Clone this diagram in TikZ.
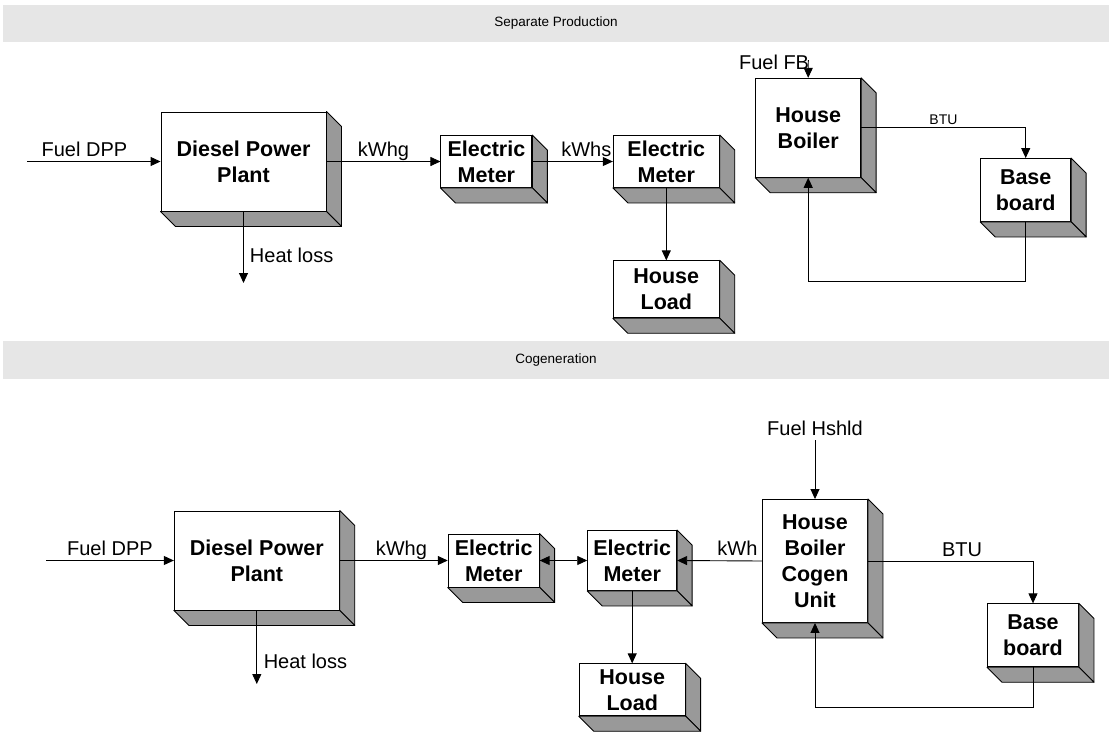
\documentclass[tikz,border=0pt]{standalone}
\usepackage{fontspec}
\setmainfont{Liberation Sans}
\usetikzlibrary{arrows.meta}

\definecolor{cgShadeGray}{HTML}{999999}
\definecolor{cgBandGray}{HTML}{E6E6E6}

\begin{document}
\begin{tikzpicture}[x=1pt,y=-1pt]
\tikzset{
    cgBlock/.style={draw=black,fill=white,line width=0.9pt,inner sep=0pt,align=center,
        font=\fontsize{21.5}{26}\selectfont\bfseries},
    cgLabel/.style={font=\fontsize{20}{24}\selectfont,inner sep=1pt,text depth=3.5pt},
    cgSmall/.style={font=\fontsize{14}{16}\selectfont,inner sep=1pt,text depth=2pt},
    cgBand/.style={fill=cgBandGray,minimum width=1106pt,inner sep=0pt,font=\fontsize{13.5}{16}\selectfont},
    cgSide/.style={draw=black,fill=cgShadeGray,line width=0.9pt,line join=round},
    cgArrow/.style={line width=0.9pt,-{Triangle[length=10pt,width=9pt]}},
    cgDblArrow/.style={line width=0.9pt,{Triangle[length=10pt,width=9pt]}-{Triangle[length=10pt,width=9pt]}}
}
\useasboundingbox (0,0) rectangle (1109,734);

% title bands
\node[cgBand,minimum height=37pt] (bandSep) at (556,23.5) {Separate Production};
\node[cgBand,minimum height=38pt] (bandCogen) at (556,360) {Cogeneration};

% separate production
\node[cgBlock,minimum width=165pt,minimum height=99pt] (dppA) at (243.5,161.5) {Diesel Power\\Plant};
\node[cgBlock,minimum width=91pt,minimum height=52pt] (emA1) at (486.4,161.5) {Electric\\Meter};
\node[cgBlock,minimum width=106pt,minimum height=52pt] (emA2) at (666.3,161.5) {Electric\\Meter};
\node[cgBlock,minimum width=106pt,minimum height=57pt] (loadA) at (666.3,289.3) {House\\Load};
\node[cgBlock,minimum width=105pt,minimum height=99pt] (boilerA) at (808.2,127.8) {House\\Boiler};
\node[cgBlock,minimum width=90pt,minimum height=63pt] (baseA) at (1025.7,190) {Base\\board};

% cogeneration
\node[cgBlock,minimum width=165pt,minimum height=99pt] (dppB) at (256.8,560.5) {Diesel Power\\Plant};
\node[cgBlock,minimum width=91pt,minimum height=53pt] (emB1) at (493.7,560.5) {Electric\\Meter};
\node[cgBlock,minimum width=89pt,minimum height=60pt] (emB2) at (632.2,560.5) {Electric\\Meter};
\node[cgBlock,minimum width=106pt,minimum height=52pt] (loadB) at (632.2,689.8) {House\\Load};
\node[cgBlock,minimum width=105pt,minimum height=123pt] (cogenB) at (815,561) {House\\Boiler\\Cogen\\Unit};
\node[cgBlock,minimum width=91pt,minimum height=63pt] (baseB) at (1033,635.3) {Base\\board};

% 3D sides
\foreach \b in {dppA,emA1,emA2,loadA,boilerA,baseA,dppB,emB1,emB2,loadB,cogenB,baseB} {
    \draw[cgSide] (\b.north east) -- ++(15,15) -- ([shift={(15,15)}]\b.south east) -- (\b.south east) -- cycle;
    \draw[cgSide] (\b.south west) -- ++(15,15) -- ([shift={(15,15)}]\b.south east) -- (\b.south east) -- cycle;
}

% free ends
\coordinate (fuelDppA) at (27,161.5);
\coordinate (heatA) at (243.5,283);
\coordinate (fuelFbA) at (808.3,60);
\coordinate (fuelDppB) at (46,560.5);
\coordinate (heatB) at (256.8,684);
\coordinate (fuelHshB) at (815,440);

% flows, separate production
\draw[cgArrow] (fuelDppA) -- node[cgLabel,above,pos=0.43] (lblFuelDppA) {Fuel DPP} (dppA.west);
\draw[cgArrow] (dppA.south) -- node[cgLabel,right,pos=0.64,xshift=5pt] (lblHeatA) {Heat loss} (heatA);
\draw[cgArrow] (dppA.east) -- node[cgLabel,above] (lblKwhgA) {kWhg} (emA1.west);
\draw[cgArrow] (emA1.east) -- node[cgLabel,above,pos=0.67] (lblKwhsA) {kWhs} (emA2.west);
\draw[cgArrow] (emA2.south) -- (loadA.north);
\node[cgLabel,anchor=base east] (lblFuelFbA) at ([shift={(2,9)}]fuelFbA) {Fuel FB};
\draw[cgArrow] (fuelFbA) -- (boilerA.north);
\draw[cgArrow] (boilerA.east) -- node[cgSmall,above] (lblBtuA) {BTU} (boilerA.east -| baseA) -- (baseA.north);
\draw[cgArrow] (baseA.south) -- ++(0,59) -| (boilerA.south);

% flows, cogeneration
\draw[cgArrow] (fuelDppB) -- node[cgLabel,above] (lblFuelDppB) {Fuel DPP} (dppB.west);
\draw[cgArrow] (dppB.south) -- node[cgLabel,right,pos=0.72,xshift=5.5pt] (lblHeatB) {Heat loss} (heatB);
\draw[cgArrow] (dppB.east) -- node[cgLabel,above,pos=0.57] (lblKwhgB) {kWhg} (emB1.west);
\draw[cgDblArrow] (emB1.east) -- (emB2.west);
\draw[cgArrow] (cogenB.west) -- node[cgLabel,above,pos=0.29] (lblKwhB) {kWh} (emB2.east);
\draw[cgArrow] (emB2.south) -- (loadB.north);
\node[cgLabel,above] (lblFuelHshB) at (fuelHshB) {Fuel Hshld};
\draw[cgArrow] (fuelHshB) -- (cogenB.north);
\draw[cgArrow] (cogenB.east) -- node[cgLabel,above,pos=0.57] (lblBtuB) {BTU} (cogenB.east -| baseB) -- (baseB.north);
\draw[cgArrow] (baseB.south) -- ++(0,40) -| (cogenB.south);
\end{tikzpicture}
\end{document}
